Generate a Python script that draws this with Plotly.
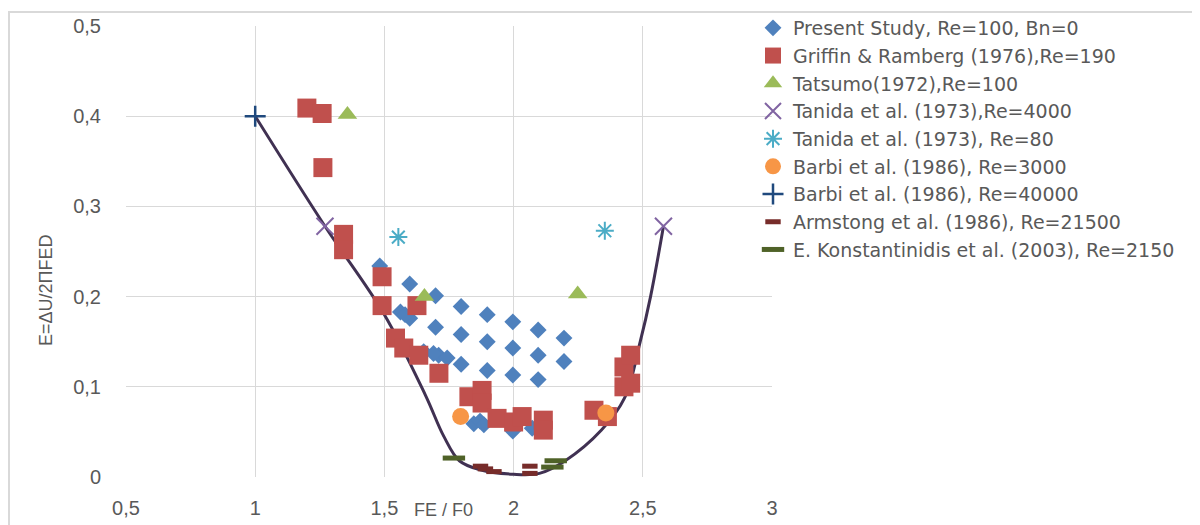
import plotly.graph_objects as go

# ---------------- data ----------------
present_x = [1.482, 1.598, 1.698, 1.797, 1.898, 1.997, 2.095, 2.195,
             1.562, 1.598, 1.698, 1.797, 1.898, 1.997, 2.095, 2.195,
             1.652, 1.710, 1.743, 1.797, 1.898, 1.997, 2.095,
             1.846, 1.870, 1.885, 1.997, 2.072, 1.580, 1.690]
present_y = [0.234, 0.214, 0.201, 0.189, 0.180, 0.172, 0.163, 0.154,
             0.183, 0.176, 0.166, 0.158, 0.150, 0.143, 0.135, 0.128,
             0.139, 0.135, 0.132, 0.125, 0.118, 0.113, 0.108,
             0.059, 0.062, 0.058, 0.051, 0.054, 0.180, 0.137]

griffin_x = [1.200, 1.259, 1.262, 1.342, 1.342, 1.491, 1.491, 1.626, 1.543, 1.575,
             1.633, 1.711, 1.827, 1.878, 1.878, 1.936, 2.000, 2.033, 2.115, 2.115,
             2.311, 2.363, 2.427, 2.453, 2.427, 2.453]
griffin_y = [0.409, 0.403, 0.343, 0.269, 0.252, 0.222, 0.190, 0.190, 0.154, 0.143,
             0.135, 0.115, 0.089, 0.096, 0.082, 0.065, 0.061, 0.067, 0.063, 0.052,
             0.074, 0.067, 0.122, 0.135, 0.100, 0.104]

tatsumo_x = [1.357, 1.655, 2.248]
tatsumo_y = [0.402, 0.200, 0.203]

tanida4000_x = [1.27, 2.58]
tanida4000_y = [0.278, 0.278]

tanida80_x = [1.554, 2.353]
tanida80_y = [0.266, 0.273]

barbi3000_x = [1.795, 2.357]
barbi3000_y = [0.067, 0.071]

barbi40000_x = [1.0]
barbi40000_y = [0.400]

armstong_x = [1.872, 1.891, 1.924, 2.063, 2.063]
armstong_y = [0.012, 0.009, 0.006, 0.012, 0.004]

konst_x = [1.769, 2.163, 2.150]
konst_y = [0.021, 0.018, 0.011]

curve_x = [1.00, 1.27, 1.50, 1.66, 1.73, 1.79, 1.87, 2.00, 2.10, 2.20, 2.34, 2.43, 2.49, 2.53, 2.58]
curve_y = [0.400, 0.278, 0.180, 0.090, 0.045, 0.018, 0.008, 0.003, 0.004, 0.018, 0.052, 0.088, 0.150, 0.200, 0.278]

x_ticks = [0.5, 1, 1.5, 2, 2.5, 3]
y_ticks = [0, 0.1, 0.2, 0.3, 0.4, 0.5]

# ---------------- figure ----------------
FONT = "Liberation Sans, Arial, sans-serif"
LEG_FONT = "DejaVu Sans, sans-serif"
TXT = "#595959"

fig = go.Figure()

fig.add_trace(go.Scatter(x=curve_x, y=curve_y, mode="lines", showlegend=False,
                         line=dict(color="#403152", width=3, shape="spline", smoothing=1.0),
                         hoverinfo="skip"))

fig.add_trace(go.Scatter(x=present_x, y=present_y, mode="markers",
                         name="Present Study, Re=100, Bn=0",
                         marker=dict(symbol="diamond", size=13, color="#4F81BD")))
fig.add_trace(go.Scatter(x=griffin_x, y=griffin_y, mode="markers",
                         name="Griffin & Ramberg (1976),Re=190",
                         marker=dict(symbol="square", size=19, color="#C0504D")))
fig.add_trace(go.Scatter(x=tatsumo_x, y=tatsumo_y, mode="markers",
                         name="Tatsumo(1972),Re=100",
                         marker=dict(symbol="triangle-up", size=17, color="#9BBB59")))
fig.add_trace(go.Scatter(x=tanida4000_x, y=tanida4000_y, mode="markers",
                         name="Tanida et al. (1973),Re=4000",
                         marker=dict(symbol="x-thin-open", size=17, color="#8064A2",
                                     line=dict(color="#8064A2", width=2))))
fig.add_trace(go.Scatter(x=tanida80_x, y=tanida80_y, mode="markers",
                         name="Tanida et al. (1973), Re=80",
                         marker=dict(symbol="asterisk-open", size=15, color="#4BACC6",
                                     line=dict(color="#4BACC6", width=2))))
fig.add_trace(go.Scatter(x=barbi3000_x, y=barbi3000_y, mode="markers",
                         name="Barbi et al. (1986), Re=3000",
                         marker=dict(symbol="circle", size=17, color="#F79646")))
fig.add_trace(go.Scatter(x=barbi40000_x, y=barbi40000_y, mode="markers",
                         name="Barbi et al. (1986), Re=40000",
                         marker=dict(symbol="cross-thin-open", size=15, color="#1F497D",
                                     line=dict(color="#1F497D", width=2.5))))
fig.add_trace(go.Scatter(x=armstong_x, y=armstong_y, mode="markers",
                         name="Armstong et al. (1986), Re=21500",
                         marker=dict(symbol="line-ew-open", size=11, color="#772C2A",
                                     line=dict(color="#772C2A", width=5))))
fig.add_trace(go.Scatter(x=konst_x, y=konst_y, mode="markers",
                         name="E. Konstantinidis et al. (2003), Re=2150",
                         marker=dict(symbol="line-ew-open", size=16, color="#4F6228",
                                     line=dict(color="#4F6228", width=5))))

# page has an 8px body margin; figure starts at screen (8, 8)
OX, OY = 8, 8
FIG_W, FIG_H = 1200 - OX, 525 - OY
# plot area in screen pixels: x 126..772, y 26..477
L, R, T, B = 126, 772, 26, 477
W, H = R - L, B - T
def px_x(p):
    return (p - L) / W
def px_y(p):
    return (B - p) / H

fig.update_layout(
    width=FIG_W, height=FIG_H,
    margin=dict(l=L - OX, r=FIG_W - (R - OX), t=T - OY, b=FIG_H - (B - OY), autoexpand=False),
    paper_bgcolor="white", plot_bgcolor="white",
    separators=", ",
    font=dict(family=FONT, color=TXT, size=20),
    showlegend=True,
    legend=dict(x=px_x(753), xanchor="left", y=px_y(9), yanchor="top",
                font=dict(family=LEG_FONT, size=19, color=TXT),
                bgcolor="rgba(0,0,0,0)", borderwidth=0,
                itemsizing="trace", tracegroupgap=0, maxheight=400),
    xaxis=dict(range=[0.5, 3], tickvals=x_ticks, showgrid=True, gridcolor="#D9D9D9",
               gridwidth=1, zeroline=False, showline=False, ticks="",
               ticklabelstandoff=17, tickfont=dict(size=20, color=TXT)),
    yaxis=dict(range=[0, 0.5], tickvals=y_ticks, showgrid=True, gridcolor="#D9D9D9",
               gridwidth=1, zeroline=False, showline=False, ticks="",
               ticklabelstandoff=24, tickfont=dict(size=20, color=TXT)),
    shapes=[dict(type="rect", xref="paper", yref="paper",
                 x0=px_x(9), x1=px_x(1197), y0=px_y(540), y1=px_y(12),
                 line=dict(color="#D9D9D9", width=2), fillcolor="rgba(0,0,0,0)",
                 layer="below")],
    annotations=[
        dict(text="E=ΔU/2ΠFED", xref="paper", yref="paper", x=px_x(46), y=px_y(290),
             textangle=-90, showarrow=False, font=dict(size=18, color=TXT, family=FONT),
             xanchor="center", yanchor="middle"),
        dict(text="FE / F0", xref="paper", yref="paper", x=px_x(443), y=px_y(510),
             showarrow=False, font=dict(size=18, color=TXT, family=FONT),
             xanchor="center", yanchor="middle"),
    ],
)

fig.write_html("out.html")
